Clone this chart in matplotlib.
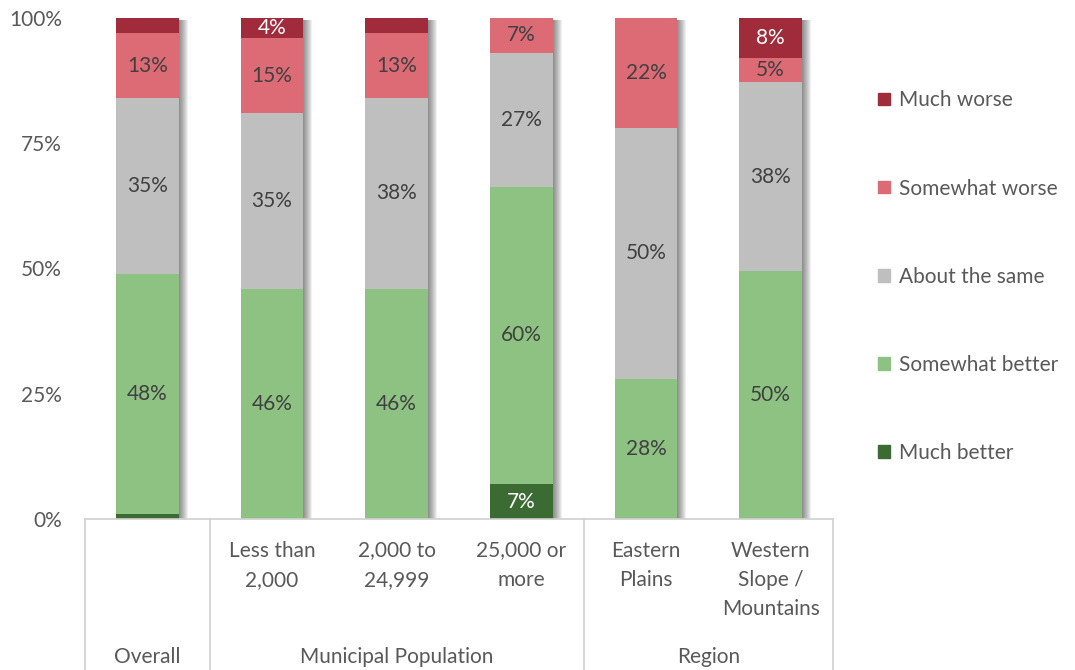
import matplotlib
matplotlib.use("Agg")
import matplotlib.pyplot as plt
import numpy as np
from matplotlib.patches import Patch

plt.rcParams['font.family'] = ['Lato', 'DejaVu Sans']

categories = ["", "Less than\n2,000", "2,000 to\n24,999", "25,000 or\nmore", "Eastern\nPlains", "Western\nSlope /\nMountains"]
groups = ["Overall", "Municipal Population", "Region"]
group_spans = [(0, 0), (1, 3), (4, 5)]
series = ["Much better", "Somewhat better", "About the same", "Somewhat worse", "Much worse"]
much_better     = [1, 0, 0, 7, 0, 0]
somewhat_better = [48, 46, 46, 60, 28, 50]
about_same      = [35, 35, 38, 27, 50, 38]
somewhat_worse  = [13, 15, 13, 7, 22, 5]
much_worse      = [3, 4, 3, 0, 0, 8]
colors = ["#3B6B32", "#8DC282", "#BFBFBF", "#DC6B76", "#A02B3B"]
text_colors = ["white", "#404040", "#404040", "#404040", "white"]

data = np.array([much_better, somewhat_better, about_same, somewhat_worse, much_worse], dtype=float)
totals = data.sum(axis=0)
norm = data / totals * 100

FS = 15
W, H = 1075, 670
fig = plt.figure(figsize=(W / 100, H / 100), dpi=100)
ax_l, ax_r, ax_t, ax_b = 85, 833, 18, 519
ax = fig.add_axes([ax_l / W, 1 - ax_b / H, (ax_r - ax_l) / W, (ax_b - ax_t) / H])

x = np.arange(len(categories))
bw = 0.505
px = 6 / (ax_r - ax_l)  # data units per pixel in x
py = 100 / (ax_b - ax_t)

# shadows
for k in range(1, 10):
    ax.bar(x + k * px, 100 - 2 * py, width=bw, bottom=0, color="black", alpha=0.06, zorder=1, linewidth=0)

bottom = np.zeros(len(categories))
for i, name in enumerate(series):
    ax.bar(x, norm[i], width=bw, bottom=bottom, color=colors[i], label=name, zorder=2, linewidth=0)
    for j in range(len(categories)):
        if data[i, j] >= 4:
            ax.text(x[j], bottom[j] + norm[i, j] / 2, f"{int(data[i, j])}%", ha="center", va="center",
                    color=text_colors[i], fontsize=FS, zorder=3)
    bottom += norm[i]

ax.set_xlim(-0.5, len(categories) - 0.5)
ax.set_ylim(0, 100)
ax.set_yticks([0, 25, 50, 75, 100])
ax.set_yticklabels(["0%", "25%", "50%", "75%", "100%"])
ax.tick_params(axis="y", length=0, pad=16.5, labelsize=FS, labelcolor="#595959")
ax.set_xticks([])
for s in ["top", "right", "left"]:
    ax.spines[s].set_visible(False)
ax.spines["bottom"].set_color("#D0D0D0")
ax.spines["bottom"].set_linewidth(1.2)

# category labels
for j, c in enumerate(categories):
    ax.text(x[j], -4.3, c, ha="center", va="top", fontsize=FS, color="#595959",
            linespacing=1.57, clip_on=False)

# separators
ybot = -(H - ax_b) / (ax_b - ax_t) * 100
for xs in [-0.5, 0.5, 3.5, 5.5]:
    ax.plot([xs, xs], [0, ybot], color="#D0D0D0", lw=1.2, clip_on=False, zorder=0)
for g, (a, b) in zip(groups, group_spans):
    ax.text((a + b) / 2, -27.5, g, ha="center", va="center", fontsize=FS, color="#595959", clip_on=False)

handles = [Patch(color=colors[i], label=series[i]) for i in range(4, -1, -1)]
fig.legend(handles=handles, loc="upper left", bbox_to_anchor=(868 / W, 1 - 80 / H), frameon=False,
           fontsize=FS, labelcolor="#595959", handlelength=0.55, handleheight=0.55,
           handletextpad=0.45, labelspacing=3.27, borderpad=0)

fig.savefig("out.png", dpi=100)
